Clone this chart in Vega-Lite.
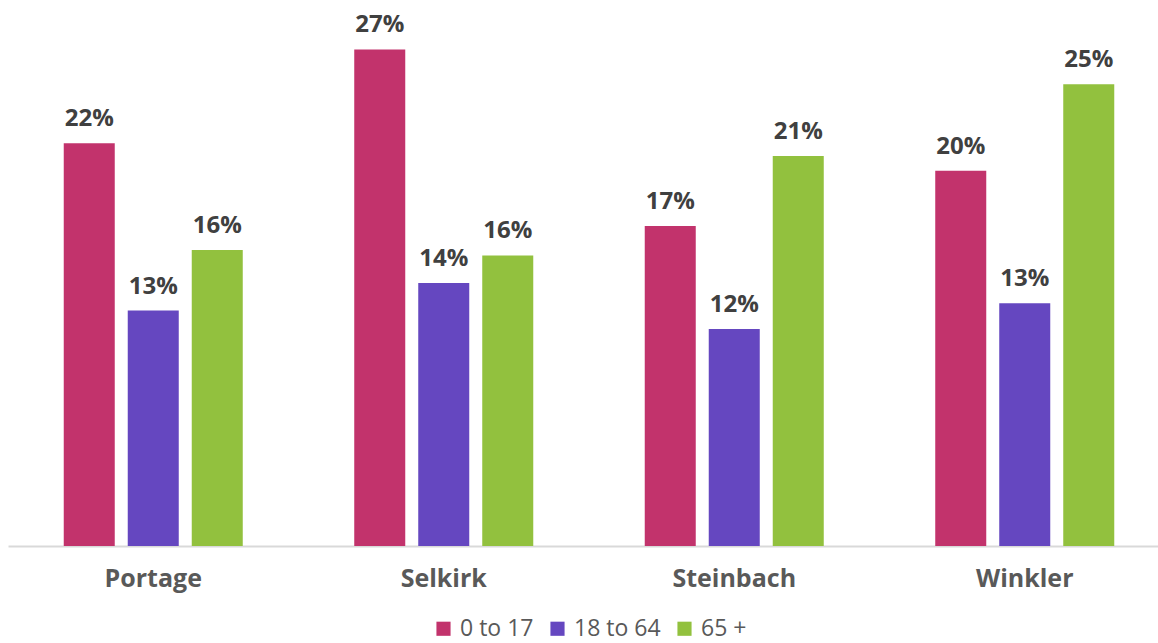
{
  "$schema": "https://vega.github.io/schema/vega-lite/v6.json",
  "width": 1162,
  "height": 515,
  "autosize": "none",
  "padding": {"left": 8, "top": 31, "right": 0, "bottom": 97},
  "background": "white",
  "config": {"view": {"stroke": null}, "font": "Open Sans"},
  "data": {"values": [
    {"city": "Portage", "group": "0 to 17", "value": 0.219},
    {"city": "Portage", "group": "18 to 64", "value": 0.128},
    {"city": "Portage", "group": "65 +", "value": 0.161},
    {"city": "Selkirk", "group": "0 to 17", "value": 0.270},
    {"city": "Selkirk", "group": "18 to 64", "value": 0.143},
    {"city": "Selkirk", "group": "65 +", "value": 0.158},
    {"city": "Steinbach", "group": "0 to 17", "value": 0.174},
    {"city": "Steinbach", "group": "18 to 64", "value": 0.118},
    {"city": "Steinbach", "group": "65 +", "value": 0.212},
    {"city": "Winkler", "group": "0 to 17", "value": 0.204},
    {"city": "Winkler", "group": "18 to 64", "value": 0.132},
    {"city": "Winkler", "group": "65 +", "value": 0.251}
  ]},
  "encoding": {
    "x": {
      "field": "city", "type": "nominal", "sort": null,
      "scale": {"paddingInner": 0, "paddingOuter": 0},
      "axis": {
        "title": null, "labelAngle": 0, "ticks": false,
        "domainColor": "#d9d9d9", "domainWidth": 2,
        "labelFontSize": 25, "labelFontWeight": "bold", "labelColor": "#595959",
        "labelPadding": 20, "labelFont": "Open Sans"
      }
    },
    "xOffset": {
      "field": "group", "type": "nominal", "sort": null,
      "scale": {"paddingInner": 0.203, "paddingOuter": 0.871}
    },
    "y": {
      "field": "value", "type": "quantitative",
      "scale": {"domain": [0, 0.28], "nice": false},
      "axis": null
    }
  },
  "layer": [
    {
      "mark": {"type": "bar"},
      "encoding": {
        "color": {
          "field": "group", "type": "nominal", "sort": null,
          "scale": {"domain": ["0 to 17", "18 to 64", "65 +"], "range": ["#c2336c", "#6547c0", "#92c13e"]},
          "legend": {
            "title": null, "orient": "none", "direction": "horizontal",
            "legendX": 424, "legendY": 586,
            "symbolType": "square", "symbolSize": 200, "symbolStrokeWidth": 0,
            "labelFontSize": 23, "labelColor": "#595959", "labelFont": "Open Sans",
            "columnPadding": 12, "labelOffset": 5
          }
        }
      }
    },
    {
      "mark": {"type": "text", "baseline": "bottom", "dy": -12, "fontSize": 24, "fontWeight": "bold", "color": "#404040", "font": "Open Sans"},
      "encoding": {
        "text": {"field": "value", "type": "quantitative", "format": ".0%"}
      }
    }
  ]
}
